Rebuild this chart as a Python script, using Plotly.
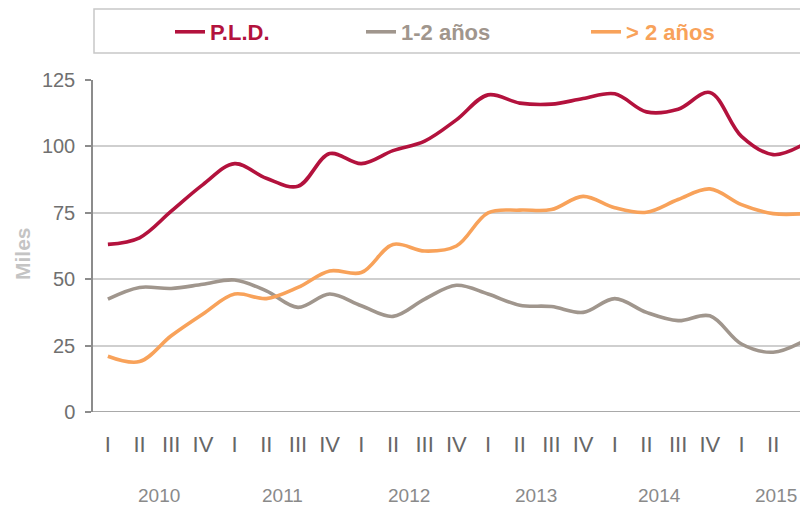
import plotly.graph_objects as go

quarters = ["I", "II", "III", "IV"] * 5 + ["I", "II", "III"]
years = ["2010", "2011", "2012", "2013", "2014", "2015"]
year_centers = [1.6, 5.5, 9.5, 13.5, 17.4, 21.1]

pld = [63.1, 65.6, 75.6, 85.6, 93.5, 88.0, 85.0, 97.3, 93.5, 98.4, 102.0,
       110.0, 119.4, 116.3, 115.9, 118.0, 119.8, 113.0, 114.0, 120.3, 103.8, 96.9, 101.0]
uno_dos = [42.5, 46.9, 46.5, 48.1, 49.7, 45.6, 39.4, 44.4, 40.0, 36.0, 42.5,
           47.7, 44.4, 40.2, 39.7, 37.5, 42.7, 37.5, 34.4, 36.2, 25.6, 22.5, 26.9]
mas_dos = [21.0, 19.0, 28.7, 36.9, 44.4, 42.7, 46.9, 53.1, 52.5, 63.1, 60.6,
           62.5, 75.0, 76.0, 76.2, 81.2, 76.9, 75.2, 80.0, 84.0, 78.1, 74.7, 74.7]

names = ["P.L.D.", "1-2 años", "> 2 años"]
colors = ["#B3123D", "#A0968D", "#F8A25A"]
series = [pld, uno_dos, mas_dos]
legend_ids = ["legend", "legend2", "legend3"]

x = list(range(len(quarters)))

fig = go.Figure()
for nm, col, vals, lg in zip(names, colors, series, legend_ids):
    fig.add_trace(go.Scatter(
        x=x, y=vals, mode="lines",
        name=f"<b>{nm}</b>",
        line=dict(color=col, width=3.6, shape="spline", smoothing=1.0),
        legend=lg,
    ))

# page body has an 8px margin: the figure is drawn at (8, 8) in the window
OFF = 8
W, H = 808 - OFF, 508 - OFF
PL, PR, PT, PB = 93, 808, 80, 412  # plot area in window pixels
L, T = PL - OFF, PT - OFF
B = H - (PB - OFF)
R = 0
pw = PR - PL
ph = PB - PT

def px_x(p):
    return (p - PL) / pw

def px_y(p):
    return (PB - p) / ph

legend_common = dict(orientation="h", yanchor="middle", xanchor="left",
                      bgcolor="rgba(0,0,0,0)", borderwidth=0)
leg_x = [170, 361, 586]
layout_legends = {}
for lg, lx, col in zip(legend_ids, leg_x, colors):
    layout_legends[lg] = dict(legend_common, x=px_x(lx), y=px_y(32),
                              font=dict(family="Liberation Sans, Arial", size=22, color=col))

annotations = []
for yr, xc in zip(years, year_centers):
    annotations.append(dict(x=xc, y=px_y(495), xref="x", yref="paper", text=yr,
                            showarrow=False, yanchor="middle", xanchor="center",
                            font=dict(family="Liberation Sans, Arial", size=19, color="#8a8a8a")))
annotations.append(dict(x=px_x(22), y=px_y(254), xref="paper", yref="paper", text="<b>Miles</b>",
                        showarrow=False, textangle=-90, xanchor="center", yanchor="middle",
                        font=dict(family="Liberation Sans, Arial", size=21, color="#c4c4c4")))

fig.update_layout(
    width=W, height=H,
    margin=dict(l=L, r=R, t=T, b=B),
    paper_bgcolor="white", plot_bgcolor="white",
    showlegend=True,
    annotations=annotations,
    shapes=[dict(type="rect", xref="paper", yref="paper",
                 x0=px_x(94), x1=1.02, y0=px_y(53), y1=px_y(9),
                 line=dict(color="#c8c8c8", width=1.5))],
    xaxis=dict(range=[-0.47, 22.1], tickvals=x, ticktext=quarters, showgrid=False,
               zeroline=False, showline=False, ticks="", ticklabelstandoff=17,
               tickfont=dict(family="Liberation Sans, Arial", size=22, color="#666666")),
    yaxis=dict(range=[0, 125], tickvals=[0, 25, 50, 75, 100, 125], showgrid=True,
               gridcolor="#cfcfcf", gridwidth=1.5, zeroline=False,
               showline=True, linecolor="#8c8c8c", linewidth=1.5,
               ticks="outside", ticklen=6, tickcolor="#8c8c8c", tickwidth=1.5,
               ticklabelstandoff=6,
               tickfont=dict(family="Liberation Sans, Arial", size=20, color="#707070")),
    **layout_legends,
)
fig.add_hline(y=0, line=dict(color="#8c8c8c", width=1.5))

fig.write_html("out.html")
